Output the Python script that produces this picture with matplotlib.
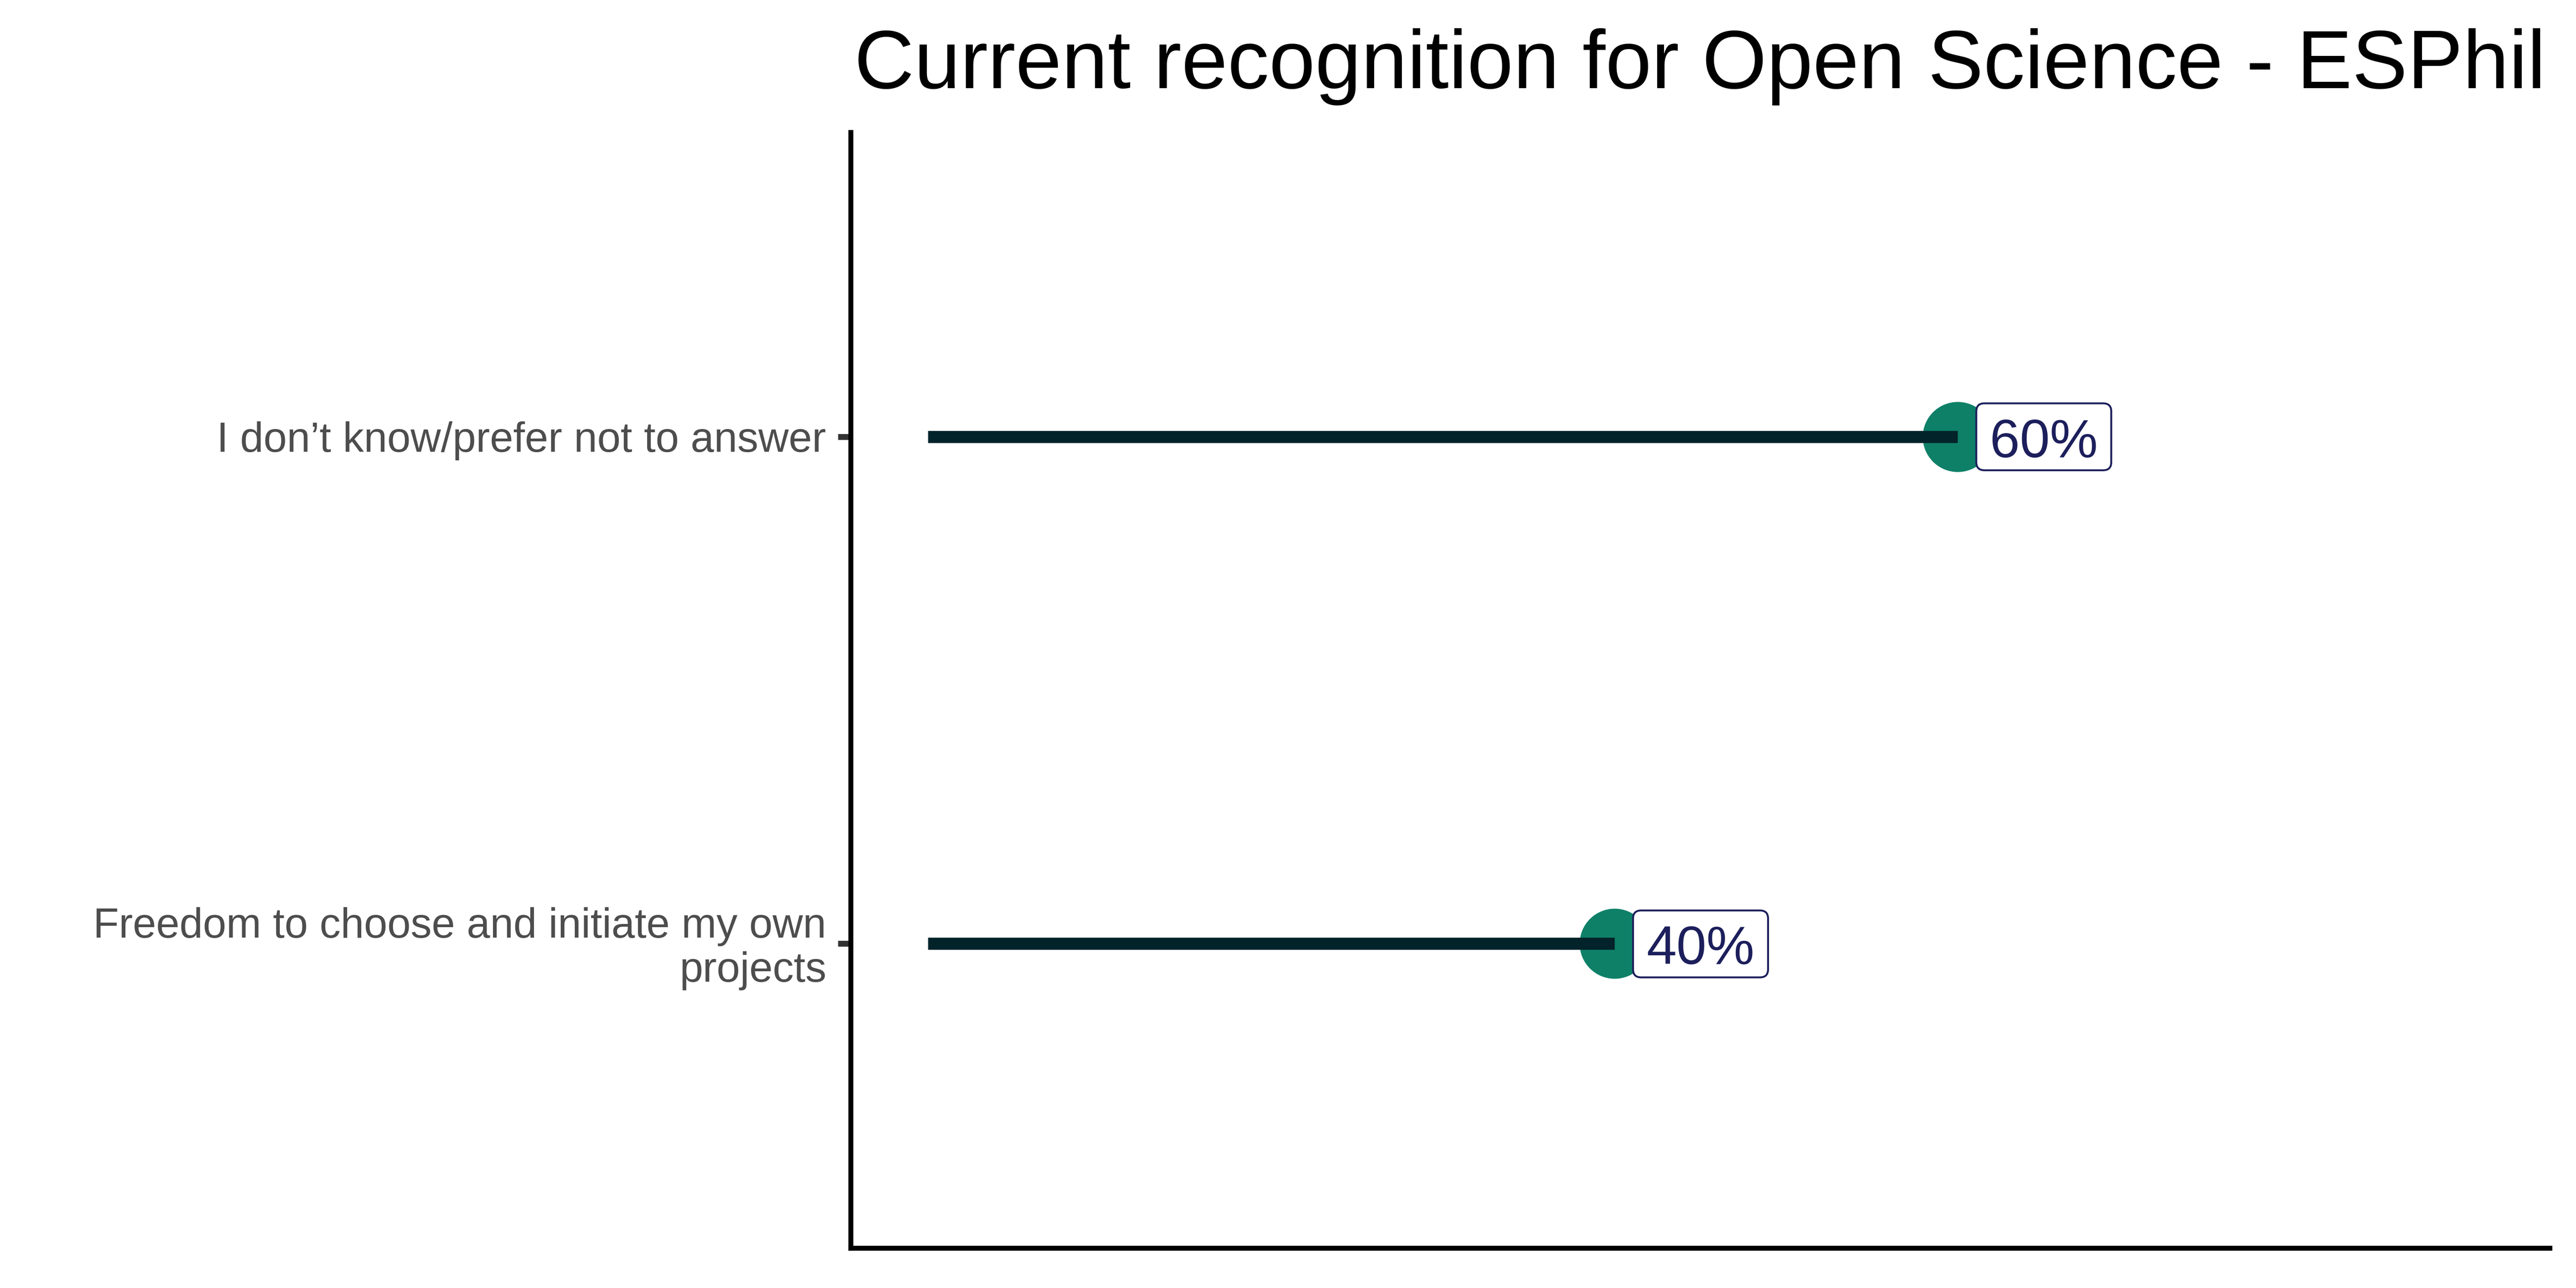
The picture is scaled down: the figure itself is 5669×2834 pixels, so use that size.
import matplotlib
matplotlib.use("Agg")
import matplotlib.pyplot as plt
from matplotlib.patches import BoxStyle
from matplotlib.transforms import ScaledTranslation

plt.rcParams['font.family'] = ['Liberation Sans', 'DejaVu Sans']

# data
categories = ["Freedom to choose and initiate my own\nprojects",
              "I don\u2019t know/prefer not to answer"]
values = [40, 60]
value_labels = ["40%", "60%"]
title = "Current recognition for Open Science - ESPhil"

dot_color = '#0E8068'
line_color = '#03232A'
label_color = '#1C1F5B'


# ggplot-like label box: wider horizontal padding, more room above text than below
def label_box(x0, y0, width, height, mutation_size):
    padx = 0.25 * mutation_size
    pad_top = 0.27 * mutation_size
    pad_bottom = 0.035 * mutation_size
    rounder = BoxStyle.Round(pad=0, rounding_size=0.15)
    return rounder(x0 - padx, y0 - pad_bottom, width + 2 * padx,
                   height + pad_top + pad_bottom, mutation_size)


fig = plt.figure(figsize=(5669 / 300, 2834 / 300), dpi=300)
ax = fig.add_axes([0.3302, 0.0311, 0.9898 - 0.3302, 0.8973 - 0.0311])

ypos = list(range(1, len(categories) + 1))

for y, v, lab in zip(ypos, values, value_labels):
    ax.plot([v], [y], 'o', color=dot_color, markersize=37, markeredgewidth=0, zorder=2)
    ax.plot([0, v], [y, y], color=line_color, linewidth=6.4, solid_capstyle='butt', zorder=3)
    ax.annotate(lab, xy=(v, y), xytext=(17, -10.8), textcoords='offset points',
                ha='left', va='baseline', fontsize=28.5, color=label_color, zorder=4,
                bbox=dict(boxstyle=label_box, facecolor='white', edgecolor=label_color, linewidth=1.0))

ax.set_xlim(-4.5, 94.5)
ax.set_ylim(0.4, 2.6)

ax.set_yticks(ypos)
ax.set_yticklabels(categories, fontsize=22.2, color='#4D4D4D', linespacing=1.16)
ax.set_xticks([])
ax.tick_params(axis='y', length=6.7, width=3.1, color='#333333', pad=6.2)

# wrapped label: centre the whole block on its tick, nudged a little lower
shift_down = ScaledTranslation(0, -2.6 / 72, fig.dpi_scale_trans)
for t in ax.get_yticklabels():
    if '\n' in t.get_text():
        t.set_verticalalignment('center')
        t.set_transform(t.get_transform() + shift_down)

for side in ['top', 'right']:
    ax.spines[side].set_visible(False)
for side in ['left', 'bottom']:
    ax.spines[side].set_linewidth(2.6)
    ax.spines[side].set_color('black')

ax.set_title(title, fontsize=43.8, color='black', pad=23.3)

fig.savefig('out.png', dpi=300)
